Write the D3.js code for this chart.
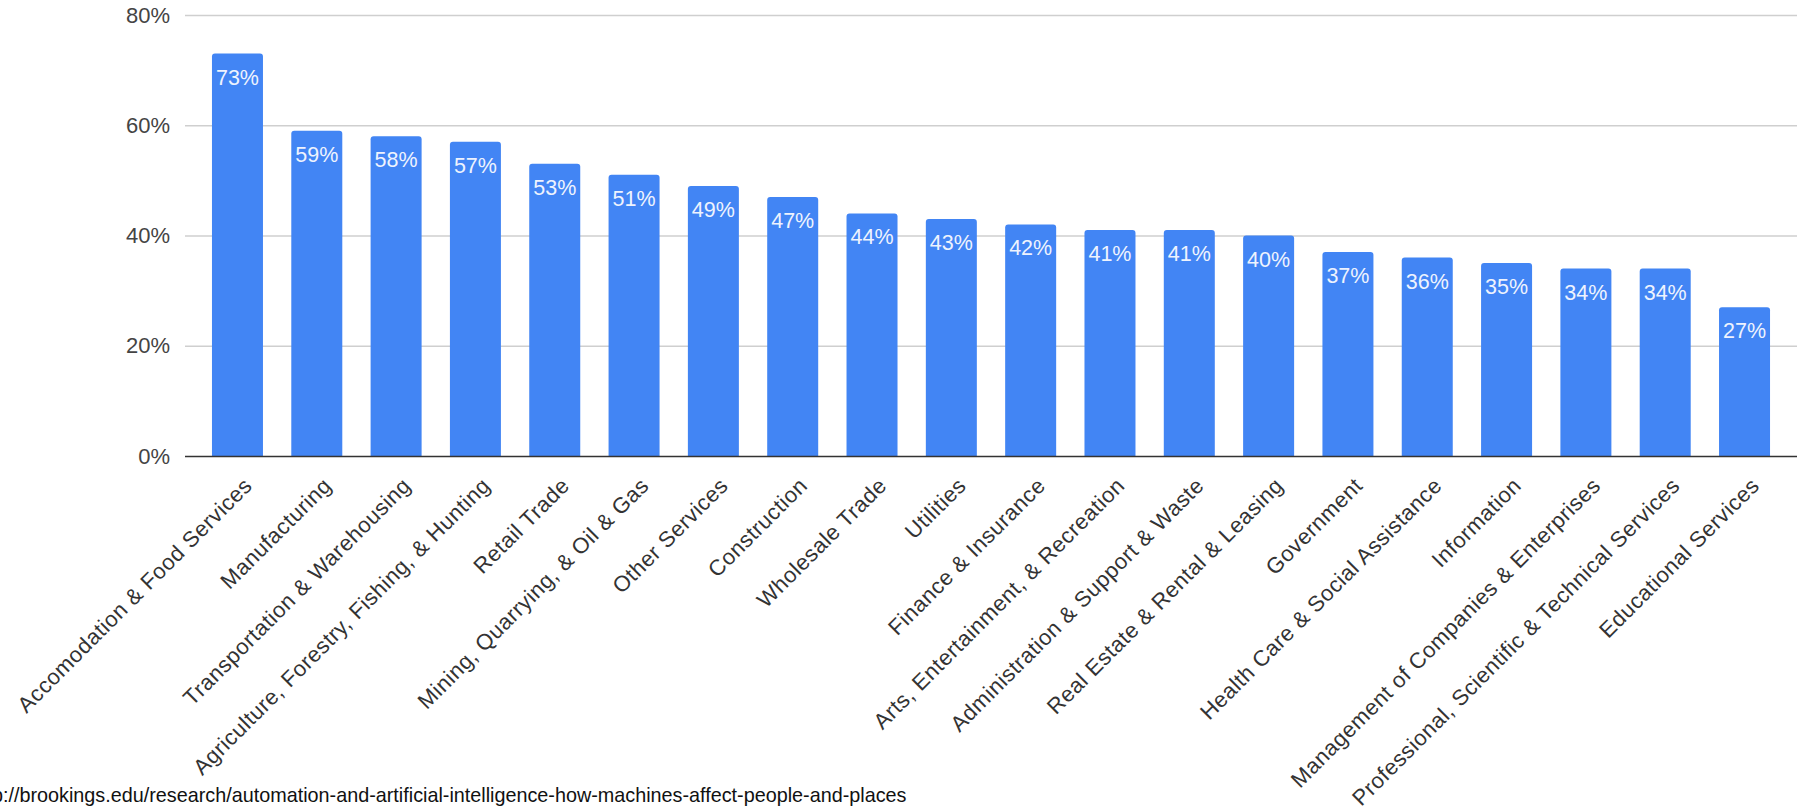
<!DOCTYPE html>
<html>
<head>
<meta charset="utf-8">
<script src="https://cdn.jsdelivr.net/npm/d3@7"></script>
<style>
  html, body { margin: 0; padding: 0; background: #fff; overflow: hidden; }
  svg { display: block; }
</style>
</head>
<body>
<svg id="chart" width="1810" height="808"></svg>
<script>
// Share of tasks susceptible to automation, by industry
const industries = [
  "Accomodation & Food Services",
  "Manufacturing",
  "Transportation & Warehousing",
  "Agriculture, Forestry, Fishing, & Hunting",
  "Retail Trade",
  "Mining, Quarrying, & Oil & Gas",
  "Other Services",
  "Construction",
  "Wholesale Trade",
  "Utilities",
  "Finance & Insurance",
  "Arts, Entertainment, & Recreation",
  "Administration & Support & Waste",
  "Real Estate & Rental & Leasing",
  "Government",
  "Health Care & Social Assistance",
  "Information",
  "Management of Companies & Enterprises",
  "Professional, Scientific & Technical Services",
  "Educational Services"
];
const shares = [73, 59, 58, 57, 53, 51, 49, 47, 44, 43, 42, 41, 41, 40, 37, 36, 35, 34, 34, 27];
const yTicks = [0, 20, 40, 60, 80];
const sourceText = "http://brookings.edu/research/automation-and-artificial-intelligence-how-machines-affect-people-and-places";

const svg = d3.select("#chart");
const plot = { left: 185, right: 1797, top: 15, bottom: 456 };
const font = "Liberation Sans, Arial, sans-serif";

const x = d3.scaleBand()
  .domain(industries)
  .range([plot.left, plot.right])
  .paddingInner(0.357)
  .paddingOuter(0.34);

const y = d3.scaleLinear()
  .domain([0, 80])
  .range([plot.bottom, plot.top]);

// Horizontal gridlines
svg.append("g")
  .selectAll("line")
  .data(yTicks.filter(t => t > 0))
  .join("line")
  .attr("x1", plot.left)
  .attr("x2", plot.right)
  .attr("y1", d => y(d) + 0.5)
  .attr("y2", d => y(d) + 0.5)
  .attr("stroke", "#cfcfcf")
  .attr("stroke-width", 1.3);

// Y axis labels
const yAxis = d3.axisLeft(y)
  .tickValues(yTicks)
  .tickFormat(d => d + "%")
  .tickSize(0)
  .tickPadding(15);
svg.append("g")
  .attr("transform", `translate(${plot.left},0)`)
  .call(yAxis)
  .call(g => g.select(".domain").remove())
  .call(g => g.selectAll("text")
    .attr("font-family", font)
    .attr("font-size", 22)
    .attr("fill", "#444"));

// Bars with slightly rounded top corners
const r = 3;
function barPath(d, i) {
  const x0 = x(industries[i]);
  const w = x.bandwidth();
  const yTop = y(d);
  const yBot = y(0);
  return `M${x0},${yBot} V${yTop + r} Q${x0},${yTop} ${x0 + r},${yTop} ` +
         `H${x0 + w - r} Q${x0 + w},${yTop} ${x0 + w},${yTop + r} V${yBot} Z`;
}
svg.append("g")
  .selectAll("path")
  .data(shares)
  .join("path")
  .attr("d", (d, i) => barPath(d, i))
  .attr("fill", "#4285f4");

// Value labels inside bar tops
svg.append("g")
  .selectAll("text")
  .data(shares)
  .join("text")
  .attr("x", (d, i) => x(industries[i]) + x.bandwidth() / 2)
  .attr("y", d => y(d) + 31)
  .attr("text-anchor", "middle")
  .attr("font-family", font)
  .attr("font-size", 21.5)
  .attr("fill", "#eef3fe")
  .text(d => d + "%");

// Baseline
svg.append("line")
  .attr("x1", plot.left)
  .attr("x2", plot.right)
  .attr("y1", y(0) + 0.5)
  .attr("y2", y(0) + 0.5)
  .attr("stroke", "#333")
  .attr("stroke-width", 1.5);

// Rotated category labels
svg.append("g")
  .selectAll("text")
  .data(industries)
  .join("text")
  .attr("transform", d => `translate(${x(d) + x.bandwidth() / 2 + 16},${plot.bottom + 31}) rotate(-45)`)
  .attr("text-anchor", "end")
  .attr("font-family", font)
  .attr("font-size", 22)
  .attr("letter-spacing", 0.5)
  .attr("fill", "#333")
  .text(d => d);

// Source line
svg.append("text")
  .attr("x", -30)
  .attr("y", 802)
  .attr("font-family", font)
  .attr("font-size", 19.8)
  .attr("fill", "#111")
  .text(sourceText);
</script>
</body>
</html>
